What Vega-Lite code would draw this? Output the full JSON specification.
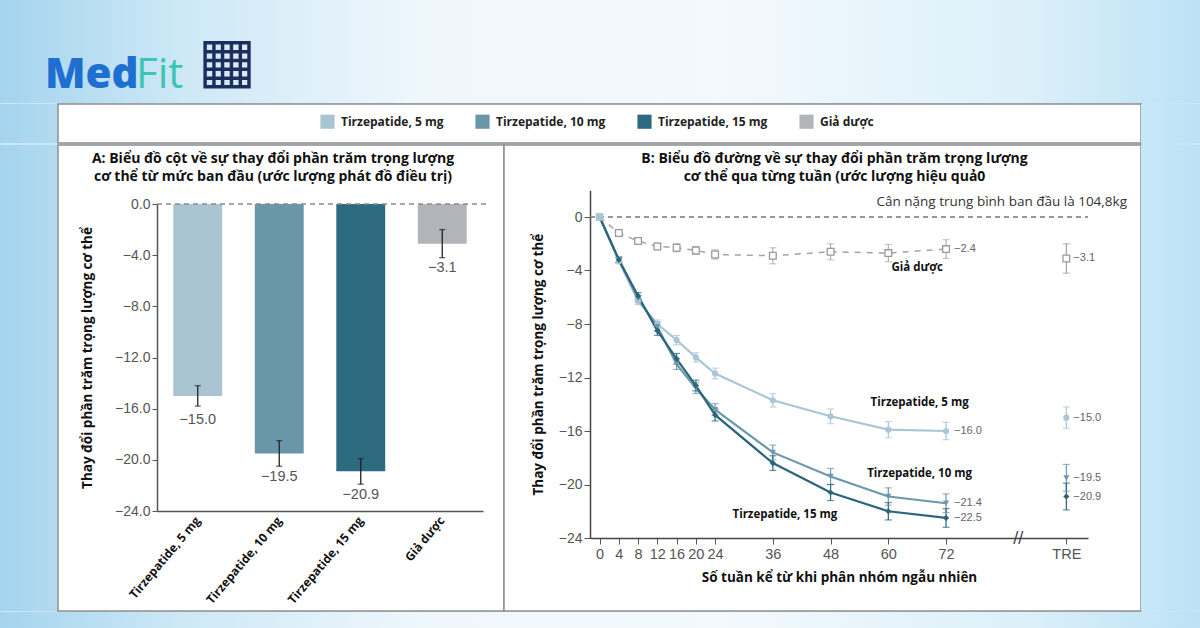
{
  "$schema": "https://vega.github.io/schema/vega-lite/v6.json",
  "padding": 0,
  "background": "#c9e7f6",
  "spacing": 0,
  "config": {"view": {"stroke": null}, "font": "Open Sans", "axis": {"grid": false}},
  "datasets": {
    "logo": [{"part": "Med"}, {"part": "Fit"}, {"part": "QR"}],
    "bars": [
      {"group": "Tirzepatide, 5 mg", "value": -15.0, "lo": -15.8, "hi": -14.2},
      {"group": "Tirzepatide, 10 mg", "value": -19.5, "lo": -20.5, "hi": -18.5},
      {"group": "Tirzepatide, 15 mg", "value": -20.9, "lo": -21.9, "hi": -19.9},
      {"group": "Giả dược", "value": -3.1, "lo": -4.2, "hi": -2.0}
    ],
    "weekly": [
      {"group": "Giả dược", "week": 0, "value": 0, "lo": 0, "hi": 0},
      {"group": "Giả dược", "week": 4, "value": -1.2, "lo": -1.45, "hi": -0.95},
      {"group": "Giả dược", "week": 8, "value": -1.8, "lo": -2.05, "hi": -1.55},
      {"group": "Giả dược", "week": 12, "value": -2.2, "lo": -2.45, "hi": -1.95},
      {"group": "Giả dược", "week": 16, "value": -2.3, "lo": -2.6, "hi": -2.0},
      {"group": "Giả dược", "week": 20, "value": -2.5, "lo": -2.8, "hi": -2.2},
      {"group": "Giả dược", "week": 24, "value": -2.8, "lo": -3.15, "hi": -2.45},
      {"group": "Giả dược", "week": 36, "value": -2.9, "lo": -3.5, "hi": -2.3},
      {"group": "Giả dược", "week": 48, "value": -2.6, "lo": -3.2, "hi": -2.0},
      {"group": "Giả dược", "week": 60, "value": -2.7, "lo": -3.35, "hi": -2.05},
      {"group": "Giả dược", "week": 72, "value": -2.4, "lo": -3.1, "hi": -1.7},
      {"group": "Tirzepatide, 5 mg", "week": 0, "value": 0, "lo": 0, "hi": 0},
      {"group": "Tirzepatide, 5 mg", "week": 4, "value": -3.3, "lo": -3.5, "hi": -3.1},
      {"group": "Tirzepatide, 5 mg", "week": 8, "value": -6.3, "lo": -6.55, "hi": -6.05},
      {"group": "Tirzepatide, 5 mg", "week": 12, "value": -8.0, "lo": -8.3, "hi": -7.7},
      {"group": "Tirzepatide, 5 mg", "week": 16, "value": -9.2, "lo": -9.55, "hi": -8.85},
      {"group": "Tirzepatide, 5 mg", "week": 20, "value": -10.5, "lo": -10.85, "hi": -10.15},
      {"group": "Tirzepatide, 5 mg", "week": 24, "value": -11.7, "lo": -12.1, "hi": -11.3},
      {"group": "Tirzepatide, 5 mg", "week": 36, "value": -13.7, "lo": -14.2, "hi": -13.2},
      {"group": "Tirzepatide, 5 mg", "week": 48, "value": -14.9, "lo": -15.45, "hi": -14.35},
      {"group": "Tirzepatide, 5 mg", "week": 60, "value": -15.9, "lo": -16.5, "hi": -15.3},
      {"group": "Tirzepatide, 5 mg", "week": 72, "value": -16.0, "lo": -16.65, "hi": -15.35},
      {"group": "Tirzepatide, 10 mg", "week": 0, "value": 0, "lo": 0, "hi": 0},
      {"group": "Tirzepatide, 10 mg", "week": 4, "value": -3.2, "lo": -3.4, "hi": -3.0},
      {"group": "Tirzepatide, 10 mg", "week": 8, "value": -6.1, "lo": -6.35, "hi": -5.85},
      {"group": "Tirzepatide, 10 mg", "week": 12, "value": -8.2, "lo": -8.55, "hi": -7.85},
      {"group": "Tirzepatide, 10 mg", "week": 16, "value": -11.0, "lo": -11.4, "hi": -10.6},
      {"group": "Tirzepatide, 10 mg", "week": 20, "value": -12.8, "lo": -13.2, "hi": -12.4},
      {"group": "Tirzepatide, 10 mg", "week": 24, "value": -14.4, "lo": -14.85, "hi": -13.95},
      {"group": "Tirzepatide, 10 mg", "week": 36, "value": -17.6, "lo": -18.15, "hi": -17.05},
      {"group": "Tirzepatide, 10 mg", "week": 48, "value": -19.4, "lo": -20.0, "hi": -18.8},
      {"group": "Tirzepatide, 10 mg", "week": 60, "value": -20.9, "lo": -21.55, "hi": -20.25},
      {"group": "Tirzepatide, 10 mg", "week": 72, "value": -21.4, "lo": -22.1, "hi": -20.7},
      {"group": "Tirzepatide, 15 mg", "week": 0, "value": 0, "lo": 0, "hi": 0},
      {"group": "Tirzepatide, 15 mg", "week": 4, "value": -3.2, "lo": -3.4, "hi": -3.0},
      {"group": "Tirzepatide, 15 mg", "week": 8, "value": -5.9, "lo": -6.15, "hi": -5.65},
      {"group": "Tirzepatide, 15 mg", "week": 12, "value": -8.5, "lo": -8.85, "hi": -8.15},
      {"group": "Tirzepatide, 15 mg", "week": 16, "value": -10.6, "lo": -11.0, "hi": -10.2},
      {"group": "Tirzepatide, 15 mg", "week": 20, "value": -12.6, "lo": -13.0, "hi": -12.2},
      {"group": "Tirzepatide, 15 mg", "week": 24, "value": -14.8, "lo": -15.25, "hi": -14.35},
      {"group": "Tirzepatide, 15 mg", "week": 36, "value": -18.4, "lo": -18.95, "hi": -17.85},
      {"group": "Tirzepatide, 15 mg", "week": 48, "value": -20.6, "lo": -21.2, "hi": -20.0},
      {"group": "Tirzepatide, 15 mg", "week": 60, "value": -22.0, "lo": -22.65, "hi": -21.35},
      {"group": "Tirzepatide, 15 mg", "week": 72, "value": -22.5, "lo": -23.2, "hi": -21.8}
    ],
    "seriesLabels": [
      {"text": "Giả dược", "week": 66, "value": -3.8},
      {"text": "Tirzepatide, 5 mg", "week": 66.5, "value": -13.9},
      {"text": "Tirzepatide, 10 mg", "week": 66.5, "value": -19.2},
      {"text": "Tirzepatide, 15 mg", "week": 38.5, "value": -22.3}
    ]
  },
  "resolve": {"scale": {"color": "independent", "shape": "independent"}, "legend": {"color": "independent", "shape": "independent"}},
  "vconcat": [
    {
      "width": 1200, "height": 103,
      "layer": [
        {"data": {"values": [{}]}, "mark": {"type": "rect", "fill": {"gradient": "linear", "x1": 0, "y1": 0, "x2": 1, "y2": 0, "stops": [{"offset": 0, "color": "#a4d4ee"}, {"offset": 0.15, "color": "#cde8f6"}, {"offset": 0.35, "color": "#eef7fc"}, {"offset": 0.6, "color": "#f3f9fd"}, {"offset": 0.85, "color": "#dcf0f9"}, {"offset": 1, "color": "#bce2f5"}]}}},
        {"data": {"name": "logo"}, "transform": [{"filter": "datum.part == 'Med'"}],
         "mark": {"type": "text", "align": "left", "baseline": "alphabetic", "dy": 36, "font": "Open Sans", "fontSize": 42, "fontWeight": 800, "fill": "#1f6fd1"},
         "encoding": {"x": {"field": "part", "type": "nominal", "scale": {"type": "point", "domain": ["Med", "Fit", "QR"], "range": [45, 227], "padding": 0}, "axis": null}, "text": {"field": "part"}}},
        {"data": {"name": "logo"}, "transform": [{"filter": "datum.part == 'Fit'"}],
         "mark": {"type": "text", "align": "left", "baseline": "alphabetic", "dy": 36, "font": "Open Sans", "fontSize": 42, "fontWeight": 400, "fill": "#3cc5b4"},
         "encoding": {"x": {"field": "part", "type": "nominal"}, "text": {"field": "part"}}},
        {"data": {"name": "logo"}, "transform": [{"filter": "datum.part == 'QR'"}],
         "mark": {"type": "text", "align": "center", "baseline": "middle", "dy": 10, "font": "DejaVu Sans", "fontSize": 62, "fill": "#1d2d5c"},
         "encoding": {"x": {"field": "part", "type": "nominal"}, "text": {"value": "▦"}}}
      ]
    },
    {
      "hconcat": [
        {"width": 58, "height": 39, "data": {"values": [{}]}, "mark": {"type": "rect", "fill": {"gradient": "linear", "x1": 0, "y1": 0, "x2": 1, "y2": 0, "stops": [{"offset": 0, "color": "#a4d4ee"}, {"offset": 1, "color": "#b3daf0"}]}}},
        {"width": 1083, "height": 39,
         "view": {"fill": "white", "stroke": "#8f8f8f", "strokeWidth": 1.5},
         "data": {"name": "bars"},
         "mark": {"type": "rect", "opacity": 0},
         "encoding": {"color": {"field": "group", "type": "nominal",
           "scale": {"domain": ["Tirzepatide, 5 mg", "Tirzepatide, 10 mg", "Tirzepatide, 15 mg", "Giả dược"], "range": ["#a9c4d2", "#6a96aa", "#2c6a7f", "#b1b4b8"]},
           "legend": {"orient": "none", "legendX": 262, "legendY": 10, "direction": "horizontal", "title": null, "symbolType": "square", "symbolSize": 200, "symbolOpacity": 1, "symbolStrokeWidth": 0, "labelFont": "Open Sans", "labelFontWeight": "bold", "labelFontSize": 12, "labelColor": "#222", "labelOffset": 6, "columnPadding": 31, "padding": 0}}}},
        {"width": 59, "height": 39, "data": {"values": [{}]}, "mark": {"type": "rect", "fill": {"gradient": "linear", "x1": 0, "y1": 0, "x2": 1, "y2": 0, "stops": [{"offset": 0, "color": "#c8e8f7"}, {"offset": 1, "color": "#bce2f5"}]}}}
      ],
      "spacing": 0, "bounds": "flush",
      "resolve": {"scale": {"color": "independent", "shape": "independent"}, "legend": {"color": "independent", "shape": "independent"}}
    },
    {
      "hconcat": [
        {"width": 58, "height": 466, "data": {"values": [{}]}, "mark": {"type": "rect", "fill": {"gradient": "linear", "x1": 0, "y1": 0, "x2": 1, "y2": 0, "stops": [{"offset": 0, "color": "#a4d4ee"}, {"offset": 1, "color": "#b3daf0"}]}}},
        {
          "width": 446, "height": 466,
          "view": {"fill": "white", "stroke": "#8f8f8f", "strokeWidth": 1.5},
          "title": {"text": ["A: Biểu đồ cột về sự thay đổi phần trăm trọng lượng", "cơ thể từ mức ban đầu (ước lượng phát đồ điều trị)"], "orient": "top", "anchor": "middle", "offset": -39, "baseline": "top", "font": "Open Sans", "fontSize": 14, "fontWeight": "bold", "color": "#111", "lineHeight": 18, "dx": -8},
          "layer": [
            {
              "data": {"name": "bars"},
              "layer": [
                {"mark": {"type": "bar"},
                 "encoding": {
                   "x": {"field": "group", "type": "nominal", "sort": ["Tirzepatide, 5 mg", "Tirzepatide, 10 mg", "Tirzepatide, 15 mg", "Giả dược"],
                     "scale": {"domain": ["Tirzepatide, 5 mg", "Tirzepatide, 10 mg", "Tirzepatide, 15 mg", "Giả dược"], "range": [99, 425], "paddingInner": 0.4, "paddingOuter": 0.2},
                     "axis": {"orient": "bottom", "offset": -100, "title": null, "labelAngle": -50, "labelAlign": "right", "labelBaseline": "middle", "labelFont": "Open Sans", "labelFontWeight": "bold", "labelFontSize": 12, "labelColor": "#111", "ticks": false, "labelPadding": 7, "domainColor": "#555", "domainWidth": 1.5}},
                   "y": {"field": "value", "type": "quantitative",
                     "scale": {"domain": [-24, 0], "range": [366, 59], "nice": false, "zero": false},
                     "axis": {"orient": "left", "offset": -99, "values": [0, -4, -8, -12, -16, -20, -24], "format": ".1f", "title": "Thay đổi phần trăm trọng lượng cơ thể", "titleFont": "Open Sans", "titleFontSize": 13.5, "titleFontWeight": "bold", "titleColor": "#111", "titlePadding": 20, "labelFont": "Liberation Sans Narrow, Liberation Sans, sans-serif", "labelFontSize": 14, "labelColor": "#555", "tickSize": 5, "tickColor": "#555", "domainColor": "#555", "domainWidth": 1.5, "labelPadding": 2}},
                   "color": {"field": "group", "type": "nominal", "scale": {"domain": ["Tirzepatide, 5 mg", "Tirzepatide, 10 mg", "Tirzepatide, 15 mg", "Giả dược"], "range": ["#a9c4d2", "#6a96aa", "#2c6a7f", "#b1b4b8"]}, "legend": null}
                 }},
                {"mark": {"type": "rule", "color": "#222", "strokeWidth": 1.3},
                 "encoding": {"x": {"field": "group", "type": "nominal"}, "y": {"field": "lo", "type": "quantitative"}, "y2": {"field": "hi"}}},
                {"mark": {"type": "tick", "color": "#222", "orient": "horizontal", "size": 6, "thickness": 1.3},
                 "encoding": {"x": {"field": "group", "type": "nominal"}, "y": {"field": "lo", "type": "quantitative"}}},
                {"mark": {"type": "tick", "color": "#222", "orient": "horizontal", "size": 6, "thickness": 1.3},
                 "encoding": {"x": {"field": "group", "type": "nominal"}, "y": {"field": "hi", "type": "quantitative"}}},
                {"mark": {"type": "text", "baseline": "middle", "dy": 24, "font": "Liberation Sans Narrow, Liberation Sans, sans-serif", "fontSize": 14.5, "color": "#555"},
                 "encoding": {"x": {"field": "group", "type": "nominal"}, "y": {"field": "value", "type": "quantitative"}, "text": {"field": "value", "type": "quantitative", "format": ".1f"}}}
              ]
            },
            {"data": {"values": [{}]},
             "mark": {"type": "rule", "strokeDash": [5, 4], "color": "#8a8a8a", "strokeWidth": 1.3},
             "encoding": {"x": {"datum": 0, "type": "quantitative", "scale": {"domain": [0, 1], "range": [99, 430]}, "axis": null}, "x2": {"datum": 1}, "y": {"datum": 0, "type": "quantitative"}}}
          ],
          "resolve": {"scale": {"x": "independent"}, "axis": {"x": "independent"}}
        },
        {
          "width": 637, "height": 466,
          "view": {"fill": "white", "stroke": "#8f8f8f", "strokeWidth": 1.5},
          "title": {"text": ["B: Biểu đồ đường về sự thay đổi phần trăm trọng lượng", "cơ thể qua từng tuần (ước lượng hiệu quả0"], "orient": "top", "anchor": "middle", "offset": -39, "baseline": "top", "font": "Open Sans", "fontSize": 14, "fontWeight": "bold", "color": "#111", "lineHeight": 18, "dx": 12},
          "layer": [
            {"data": {"values": [{}]},
             "mark": {"type": "rule", "strokeDash": [5, 4], "color": "#777", "strokeWidth": 1.3},
             "encoding": {
               "x": {"datum": -2, "type": "quantitative", "scale": {"domain": [-2, 101.5], "range": [86, 584], "nice": false, "zero": false},
                 "axis": {"orient": "bottom", "offset": -73, "values": [0, 4, 8, 12, 16, 20, 24, 36, 48, 60, 72, 97], "labelExpr": "datum.value == 97 ? 'TRE' : datum.label", "title": "Số tuần kể từ khi phân nhóm ngẫu nhiên", "titleFont": "Open Sans", "titleFontSize": 13.5, "titleFontWeight": "bold", "titleColor": "#111", "titlePadding": 10, "labelFont": "Liberation Sans Narrow, Liberation Sans, sans-serif", "labelFontSize": 14.5, "labelColor": "#555", "labelPadding": 3, "tickSize": 6, "tickColor": "#555", "domainColor": "#444", "domainWidth": 1.5, "labelOverlap": false, "labelFlush": false, "labelBound": false}},
               "x2": {"datum": 101.5},
               "y": {"datum": 0, "type": "quantitative", "scale": {"domain": [-24, 2], "range": [393, 45.25], "nice": false, "zero": false},
                 "axis": {"orient": "left", "offset": -86, "values": [0, -4, -8, -12, -16, -20, -24], "title": "Thay đổi phần trăm trọng lượng cơ thể", "titleFont": "Open Sans", "titleFontSize": 13.5, "titleFontWeight": "bold", "titleColor": "#111", "titlePadding": 13, "labelFont": "Liberation Sans Narrow, Liberation Sans, sans-serif", "labelFontSize": 14, "labelColor": "#555", "tickSize": 6, "tickColor": "#555", "domainColor": "#444", "domainWidth": 1.5, "labelPadding": 2, "labelOverlap": false, "labelFlush": false}}
             }},
            {"data": {"name": "weekly"}, "transform": [{"filter": "datum.group == 'Giả dược'"}],
             "mark": {"type": "line", "color": "#a3a3a3", "strokeDash": [6, 6], "strokeWidth": 1.5},
             "encoding": {"x": {"field": "week", "type": "quantitative"}, "y": {"field": "value", "type": "quantitative"}}},
            {"data": {"name": "weekly"}, "transform": [{"filter": "datum.group != 'Giả dược' && datum.week > 0"}],
             "mark": {"type": "rule", "strokeWidth": 1.2},
             "encoding": {"x": {"field": "week", "type": "quantitative"}, "y": {"field": "lo", "type": "quantitative"}, "y2": {"field": "hi"},
               "color": {"field": "group", "type": "nominal", "scale": {"domain": ["Tirzepatide, 5 mg", "Tirzepatide, 10 mg", "Tirzepatide, 15 mg", "Giả dược"], "range": ["#a9c6d4", "#6b98ac", "#2b6579", "#a0a0a0"]}, "legend": null}}},
            {"data": {"name": "weekly"}, "transform": [{"filter": "datum.group != 'Giả dược' && datum.week > 0"}],
             "mark": {"type": "tick", "orient": "horizontal", "size": 7, "thickness": 1.2},
             "encoding": {"x": {"field": "week", "type": "quantitative"}, "y": {"field": "lo", "type": "quantitative"}, "color": {"field": "group", "type": "nominal", "legend": null}}},
            {"data": {"name": "weekly"}, "transform": [{"filter": "datum.group != 'Giả dược' && datum.week > 0"}],
             "mark": {"type": "tick", "orient": "horizontal", "size": 7, "thickness": 1.2},
             "encoding": {"x": {"field": "week", "type": "quantitative"}, "y": {"field": "hi", "type": "quantitative"}, "color": {"field": "group", "type": "nominal", "legend": null}}},
            {"data": {"name": "weekly"}, "transform": [{"filter": "datum.group != 'Giả dược'"}],
             "mark": {"type": "line", "strokeWidth": 2.2},
             "encoding": {"x": {"field": "week", "type": "quantitative"}, "y": {"field": "value", "type": "quantitative"}, "color": {"field": "group", "type": "nominal", "legend": null}}},
            {"data": {"name": "weekly"}, "transform": [{"filter": "datum.group != 'Giả dược' && datum.week > 0"}],
             "mark": {"type": "point", "filled": true, "size": 38, "opacity": 1},
             "encoding": {"x": {"field": "week", "type": "quantitative"}, "y": {"field": "value", "type": "quantitative"}, "color": {"field": "group", "type": "nominal", "legend": null},
               "shape": {"field": "group", "type": "nominal", "scale": {"domain": ["Tirzepatide, 5 mg", "Tirzepatide, 10 mg", "Tirzepatide, 15 mg", "Giả dược"], "range": ["circle", "triangle-down", "diamond", "square"]}, "legend": null}}},
            {"data": {"name": "weekly"}, "transform": [{"filter": "datum.group == 'Giả dược' && datum.week > 0"}],
             "mark": {"type": "rule", "color": "#a8a8a8", "strokeWidth": 1.1},
             "encoding": {"x": {"field": "week", "type": "quantitative"}, "y": {"field": "lo", "type": "quantitative"}, "y2": {"field": "hi"}}},
            {"data": {"name": "weekly"}, "transform": [{"filter": "datum.group == 'Giả dược' && datum.week > 0"}],
             "mark": {"type": "tick", "orient": "horizontal", "size": 7, "thickness": 1.1, "color": "#a8a8a8"},
             "encoding": {"x": {"field": "week", "type": "quantitative"}, "y": {"field": "lo", "type": "quantitative"}}},
            {"data": {"name": "weekly"}, "transform": [{"filter": "datum.group == 'Giả dược' && datum.week > 0"}],
             "mark": {"type": "tick", "orient": "horizontal", "size": 7, "thickness": 1.1, "color": "#a8a8a8"},
             "encoding": {"x": {"field": "week", "type": "quantitative"}, "y": {"field": "hi", "type": "quantitative"}}},
            {"data": {"name": "weekly"}, "transform": [{"filter": "datum.group == 'Giả dược' && datum.week > 0"}],
             "mark": {"type": "point", "shape": "square", "filled": false, "fill": "white", "stroke": "#9a9a9a", "strokeWidth": 1.3, "size": 45, "opacity": 1},
             "encoding": {"x": {"field": "week", "type": "quantitative"}, "y": {"field": "value", "type": "quantitative"}}},
            {"data": {"name": "weekly"}, "transform": [{"filter": "datum.group == 'Giả dược' && datum.week == 0"}],
             "mark": {"type": "point", "shape": "square", "filled": true, "color": "#a9c4d2", "size": 60, "opacity": 1},
             "encoding": {"x": {"field": "week", "type": "quantitative"}, "y": {"field": "value", "type": "quantitative"}}},
            {"data": {"name": "bars"},
             "mark": {"type": "rule", "strokeWidth": 1.2},
             "encoding": {"x": {"datum": 97, "type": "quantitative"}, "y": {"field": "lo", "type": "quantitative"}, "y2": {"field": "hi"}, "color": {"field": "group", "type": "nominal", "legend": null}}},
            {"data": {"name": "bars"},
             "mark": {"type": "tick", "orient": "horizontal", "size": 7, "thickness": 1.2},
             "encoding": {"x": {"datum": 97, "type": "quantitative"}, "y": {"field": "lo", "type": "quantitative"}, "color": {"field": "group", "type": "nominal", "legend": null}}},
            {"data": {"name": "bars"},
             "mark": {"type": "tick", "orient": "horizontal", "size": 7, "thickness": 1.2},
             "encoding": {"x": {"datum": 97, "type": "quantitative"}, "y": {"field": "hi", "type": "quantitative"}, "color": {"field": "group", "type": "nominal", "legend": null}}},
            {"data": {"name": "bars"}, "transform": [{"filter": "datum.group != 'Giả dược'"}],
             "mark": {"type": "point", "filled": true, "size": 38, "opacity": 1},
             "encoding": {"x": {"datum": 97, "type": "quantitative"}, "y": {"field": "value", "type": "quantitative"}, "color": {"field": "group", "type": "nominal", "legend": null}, "shape": {"field": "group", "type": "nominal", "legend": null}}},
            {"data": {"name": "bars"}, "transform": [{"filter": "datum.group == 'Giả dược'"}],
             "mark": {"type": "point", "shape": "square", "filled": false, "fill": "white", "stroke": "#9a9a9a", "strokeWidth": 1.3, "size": 45, "opacity": 1},
             "encoding": {"x": {"datum": 97, "type": "quantitative"}, "y": {"field": "value", "type": "quantitative"}}},
            {"data": {"name": "bars"},
             "mark": {"type": "text", "align": "left", "baseline": "middle", "dx": 7, "font": "Liberation Sans Narrow, Liberation Sans, sans-serif", "fontSize": 11, "color": "#666"},
             "encoding": {"x": {"datum": 97, "type": "quantitative"}, "y": {"field": "value", "type": "quantitative"}, "text": {"field": "value", "type": "quantitative", "format": ".1f"}}},
            {"data": {"name": "weekly"}, "transform": [{"filter": "datum.week == 72"}],
             "mark": {"type": "text", "align": "left", "baseline": "middle", "dx": 8, "font": "Liberation Sans Narrow, Liberation Sans, sans-serif", "fontSize": 11, "color": "#666"},
             "encoding": {"x": {"field": "week", "type": "quantitative"}, "y": {"field": "value", "type": "quantitative"}, "text": {"field": "value", "type": "quantitative", "format": ".1f"}}},
            {"data": {"name": "seriesLabels"},
             "mark": {"type": "text", "align": "center", "baseline": "middle", "font": "Open Sans", "fontWeight": "bold", "fontSize": 11.5, "color": "#111"},
             "encoding": {"x": {"field": "week", "type": "quantitative"}, "y": {"field": "value", "type": "quantitative"}, "text": {"field": "text"}}},
            {"data": {"values": [{"note": "Cân nặng trung bình ban đầu là 104,8kg"}]},
             "mark": {"type": "text", "align": "right", "baseline": "middle", "font": "Open Sans", "fontSize": 13.5, "color": "#333"},
             "encoding": {"x": {"datum": 109.6, "type": "quantitative"}, "y": {"datum": 1.1, "type": "quantitative"}, "text": {"field": "note"}}},
            {"data": {"values": [{"mark": "//"}]},
             "mark": {"type": "text", "align": "center", "baseline": "middle", "font": "DejaVu Sans", "fontSize": 15, "color": "#333"},
             "encoding": {"x": {"datum": 87, "type": "quantitative"}, "y": {"datum": -24, "type": "quantitative"}, "text": {"field": "mark"}}}
          ]
        },
        {"width": 59, "height": 466, "data": {"values": [{}]}, "mark": {"type": "rect", "fill": {"gradient": "linear", "x1": 0, "y1": 0, "x2": 1, "y2": 0, "stops": [{"offset": 0, "color": "#c8e8f7"}, {"offset": 1, "color": "#bce2f5"}]}}}
      ],
      "spacing": 0, "bounds": "flush",
      "resolve": {"scale": {"color": "independent", "shape": "independent"}, "legend": {"color": "independent", "shape": "independent"}}
    },
    {"width": 1200, "height": 20, "data": {"values": [{}]}, "mark": {"type": "rect", "fill": {"gradient": "linear", "x1": 0, "y1": 0, "x2": 1, "y2": 0, "stops": [{"offset": 0, "color": "#a4d4ee"}, {"offset": 0.15, "color": "#cde8f6"}, {"offset": 0.35, "color": "#eef7fc"}, {"offset": 0.6, "color": "#f3f9fd"}, {"offset": 0.85, "color": "#dcf0f9"}, {"offset": 1, "color": "#bce2f5"}]}}}
  ]
}
